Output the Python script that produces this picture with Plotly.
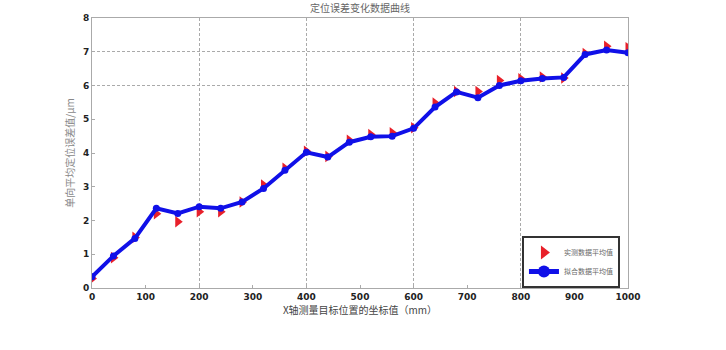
import plotly.graph_objects as go

x_pos = [0, 40, 80, 120, 160, 200, 240, 280, 320, 360, 400, 440, 480, 520, 560,
         600, 640, 680, 720, 760, 800, 840, 880, 920, 960, 1000]
measured = [0.28, 0.90, 1.50, 2.20, 1.96, 2.26, 2.26, 2.55, 3.05, 3.55, 4.05, 3.90, 4.38,
            4.55, 4.60, 4.75, 5.48, 5.82, 5.82, 6.15, 6.20, 6.25, 6.22, 6.95, 7.16, 7.12]
fitted = [0.33, 0.95, 1.47, 2.36, 2.21, 2.41, 2.36, 2.55, 2.95, 3.49, 4.02, 3.88, 4.32,
          4.48, 4.50, 4.73, 5.36, 5.81, 5.64, 6.00, 6.14, 6.21, 6.24, 6.92, 7.05, 6.97]
x_ticks = [0, 100, 200, 300, 400, 500, 600, 700, 800, 900, 1000]
y_ticks = [0, 1, 2, 3, 4, 5, 6, 7, 8]
title = "定位误差变化数据曲线"
x_title = "X轴测量目标位置的坐标值（mm）"
y_title = "单向平均定位误差值/μm"
names = ["实测数据平均值", "拟合数据平均值"]

cjk = "Noto Sans CJK SC"
fig = go.Figure()
fig.add_trace(go.Scatter(x=x_pos, y=measured, mode="markers", name=names[0],
                         marker=dict(symbol="triangle-right", size=10, color="#e8202a")))
fig.add_trace(go.Scatter(x=x_pos, y=fitted, mode="lines+markers", name=names[1],
                         line=dict(color="#1010e8", width=4),
                         marker=dict(symbol="circle", size=7, color="#1010e8")))
# grid-only overlay axes
fig.add_trace(go.Scatter(x=[None], y=[None], xaxis="x2", yaxis="y2", showlegend=False, hoverinfo="skip"))

fig.update_layout(
    width=726, height=350,
    margin=dict(l=92, r=98, t=18, b=62),
    paper_bgcolor="white", plot_bgcolor="white",
    title=dict(text=title, x=0.496, xanchor="center", y=0.975, yanchor="middle",
               font=dict(family=cjk, size=10, color="#666")),
    font=dict(family=cjk, color="#333"),
    xaxis=dict(range=[0, 1000], tickvals=x_ticks, ticktext=[str(v) for v in x_ticks],
               showgrid=False, zeroline=False, showline=True, linecolor="#aaa", linewidth=1,
               mirror=True, ticks="inside", ticklen=3, tickcolor="#aaa",
               tickfont=dict(family="DejaVu Sans", size=9, color="#222", weight="bold"),
               title=dict(text=x_title, standoff=4, font=dict(family=cjk, size=10, color="#444"))),
    yaxis=dict(range=[0, 8], tickvals=y_ticks, showgrid=False, zeroline=False,
               showline=True, linecolor="#aaa", linewidth=1, mirror=True,
               ticks="inside", ticklen=3, tickcolor="#aaa",
               tickfont=dict(family="DejaVu Sans", size=9, color="#222", weight="bold"),
               title=dict(text=y_title, standoff=6, font=dict(family=cjk, size=10, color="#888"))),
    xaxis2=dict(range=[0, 1000], overlaying="x", dtick=200, showgrid=True, gridcolor="#aaa",
                griddash="3px,2px", gridwidth=1, showticklabels=False, zeroline=False, layer="below traces"),
    yaxis2=dict(range=[0, 8], overlaying="y", tickvals=[6, 7, 8], showgrid=True, gridcolor="#aaa",
                griddash="3px,2px", gridwidth=1, showticklabels=False, zeroline=False, layer="below traces"),
    legend=dict(x=0.985, y=0.0, xanchor="right", yanchor="bottom", bgcolor="white",
                bordercolor="#333", borderwidth=2, font=dict(family=cjk, size=7, color="#666"),
                tracegroupgap=0, itemwidth=30, itemsizing="constant"),
    showlegend=True,
)
fig.write_html("out.html")
